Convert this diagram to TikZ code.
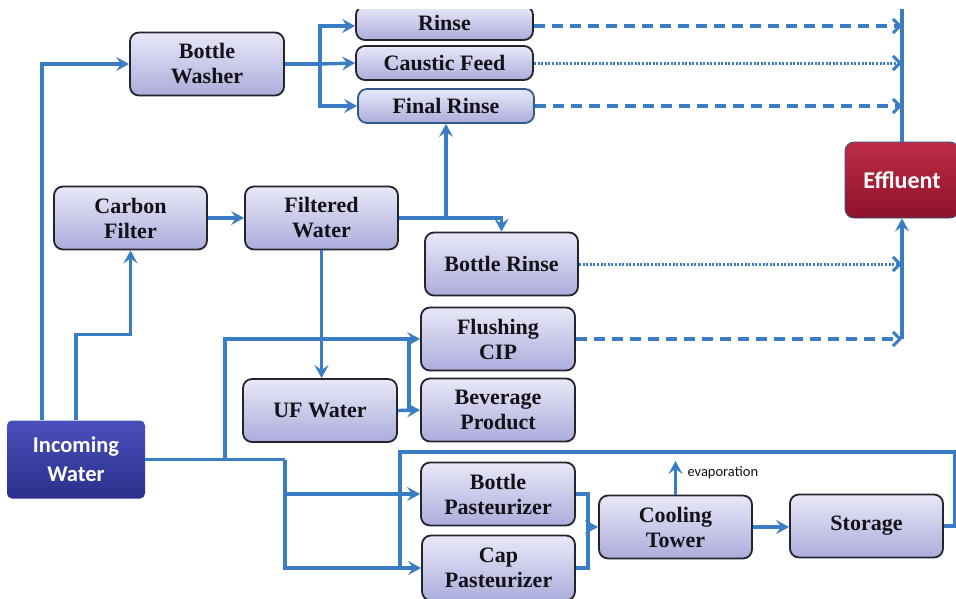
\documentclass[tikz,border=0pt]{standalone}
\usepackage{fontspec}
\setmainfont{Liberation Serif}
\newfontfamily\calib{Carlito}
\usetikzlibrary{arrows.meta,calc}
\definecolor{flow}{RGB}{59,125,196}
\definecolor{boxtop}{RGB}{232,232,248}
\definecolor{boxbot}{RGB}{172,172,220}
\definecolor{boxedge}{RGB}{36,36,44}
\definecolor{inTop}{RGB}{74,80,186}
\definecolor{inBot}{RGB}{42,48,140}
\definecolor{effTop}{RGB}{190,44,70}
\definecolor{effBot}{RGB}{142,18,42}
\definecolor{txt}{RGB}{18,18,24}
\tikzset{
  proc/.style={draw=boxedge, line width=1.8pt, rounded corners=9pt, top color=boxtop, bottom color=boxbot,
    minimum width=154pt, minimum height=63pt, inner sep=0pt, align=center, text=txt,
    font=\fontsize{22}{25}\selectfont\bfseries},
  slim/.style={proc, minimum height=34pt, minimum width=177pt},
  incbox/.style={rounded corners=5pt, top color=inTop, bottom color=inBot, minimum width=138pt, minimum height=78pt,
    inner sep=0pt, align=center, text=white, font=\calib\bfseries\fontsize{22.5}{29}\selectfont},
  effbox/.style={draw=flow!70!black, line width=0.8pt, rounded corners=9pt, top color=effTop, bottom color=effBot,
    minimum width=114pt, minimum height=76pt, inner sep=0pt, text=white, font=\calib\bfseries\fontsize{24}{29}\selectfont},
  ln/.style={draw=flow, line width=3.4pt},
  arr/.style={ln, -{Stealth[length=13pt,width=14pt,inset=5pt]}},
  dasharr/.style={ln, dash pattern=on 11pt off 7pt, -{Straight Barb[length=7pt,width=14pt,line width=3pt]}},
  dotarr/.style={draw=flow, line width=3pt, dash pattern=on 2pt off 1.6pt, -{Straight Barb[length=7pt,width=14pt,line width=3pt]}},
}
\begin{document}
\begin{tikzpicture}[x=1pt,y=-1pt]
\useasboundingbox (0,0) rectangle (956,598);
\fill[white] (0,0) rectangle (956,598);
\clip (0,9) rectangle (956,598);
% nodes
\node[proc] (washer) at (207,64) {Bottle\\Washer};
\node[slim] (rinse) at (444.5,23) {Rinse};
\node[slim] (caustic) at (444.5,63) {Caustic Feed};
\node[slim, draw=flow!60!boxedge, minimum width=176pt] (finalrinse) at (446,106) {Final Rinse};
\node[proc, minimum width=153pt] (carbon) at (130.5,218) {Carbon\\Filter};
\node[proc, minimum width=153pt] (filtered) at (321.5,218) {Filtered\\Water};
\node[proc, minimum width=153pt] (brinse) at (501.5,264) {Bottle Rinse};
\node[proc] (flushing) at (498,339) {Flushing\\CIP};
\node[proc] (beverage) at (498,410) {Beverage\\Product};
\node[proc] (uf) at (320,410.5) {UF Water};
\node[incbox] (incoming) at (76,459.5) {Incoming\\Water};
\node[proc] (bpast) at (498,494) {Bottle\\Pasteurizer};
\node[proc, minimum width=153pt, minimum height=65pt] (cpast) at (498.5,568) {Cap\\Pasteurizer};
\node[proc, minimum width=153pt] (cooling) at (675.5,527) {Cooling\\Tower};
\node[proc, minimum width=153pt] (storage) at (866.5,526) {Storage};
\node[effbox] (effluent) at (902,180) {Effluent};
% junction coordinates
\coordinate (wj) at (320,64);
\coordinate (s1) at (225,459.5);
\coordinate (s2) at (285,459.5);
\coordinate (ufj) at ($(uf.east)!0.5!(beverage.west)$);
\coordinate (pj) at (588,527);
\coordinate (evap) at (675.5,461);
\coordinate (rtop) at (955,452);
\coordinate (rleft) at (400,452);
\coordinate (bustop) at (902,0);
% connectors
\draw[arr] ([xshift=-34pt]incoming.north) |- (washer.west);
\draw[arr] (incoming.north) -- ++(0,-86) -| (carbon.south);
\draw[arr] (carbon.east) -- (filtered.west);
\draw[arr] (filtered.east) -| (finalrinse.south);
\draw[arr] (filtered.east) -| (brinse.north);
\draw[arr] (filtered.south) -- (filtered.south |- uf.north);
\draw[arr] (uf.east) -- (beverage.west);
\draw[ln] (ufj) -- (ufj |- flushing.west);
\draw[ln] (incoming.east) -- (s2);
\draw[arr] (s1) |- (flushing.west);
\draw[arr] (s2) |- (bpast.west);
\draw[arr] (s2) |- (cpast.west);
\draw[ln] (storage.east) -| (rtop) -- (rleft) -- (rleft |- cpast.west);
\draw[ln] (bpast.east) -| (pj);
\draw[ln] (cpast.east) -| (pj);
\draw[arr] (pj) -- (cooling.west);
\draw[arr] (cooling.north) -- (evap);
\node[anchor=west, font=\calib\fontsize{14.5}{16}\selectfont, text=txt] (evaplabel) at (684,473) {evaporation};
\draw[arr] (cooling.east) -- (cooling.east -| storage.west);
\draw[ln] (washer.east) -- (wj);
\draw[arr] (wj) |- ([yshift=-3pt]rinse.west);
\draw[arr] (wj) -- (caustic.west);
\draw[arr] (wj) |- (finalrinse.west);
\draw[ln] (effluent.north) -- (bustop);
\draw[dasharr] ([yshift=-3pt]rinse.east) -- ([yshift=-3pt]rinse.east -| effluent.north);
\draw[dotarr] (caustic.east) -- (caustic.east -| effluent.north);
\draw[dasharr] (finalrinse.east) -- (finalrinse.east -| effluent.north);
\draw[dotarr] (brinse.east) -- (brinse.east -| effluent.south);
\draw[dasharr] (flushing.east) -- (flushing.east -| effluent.south);
\draw[arr] (flushing.east -| effluent.south) -- (effluent.south);
\end{tikzpicture}
\end{document}
